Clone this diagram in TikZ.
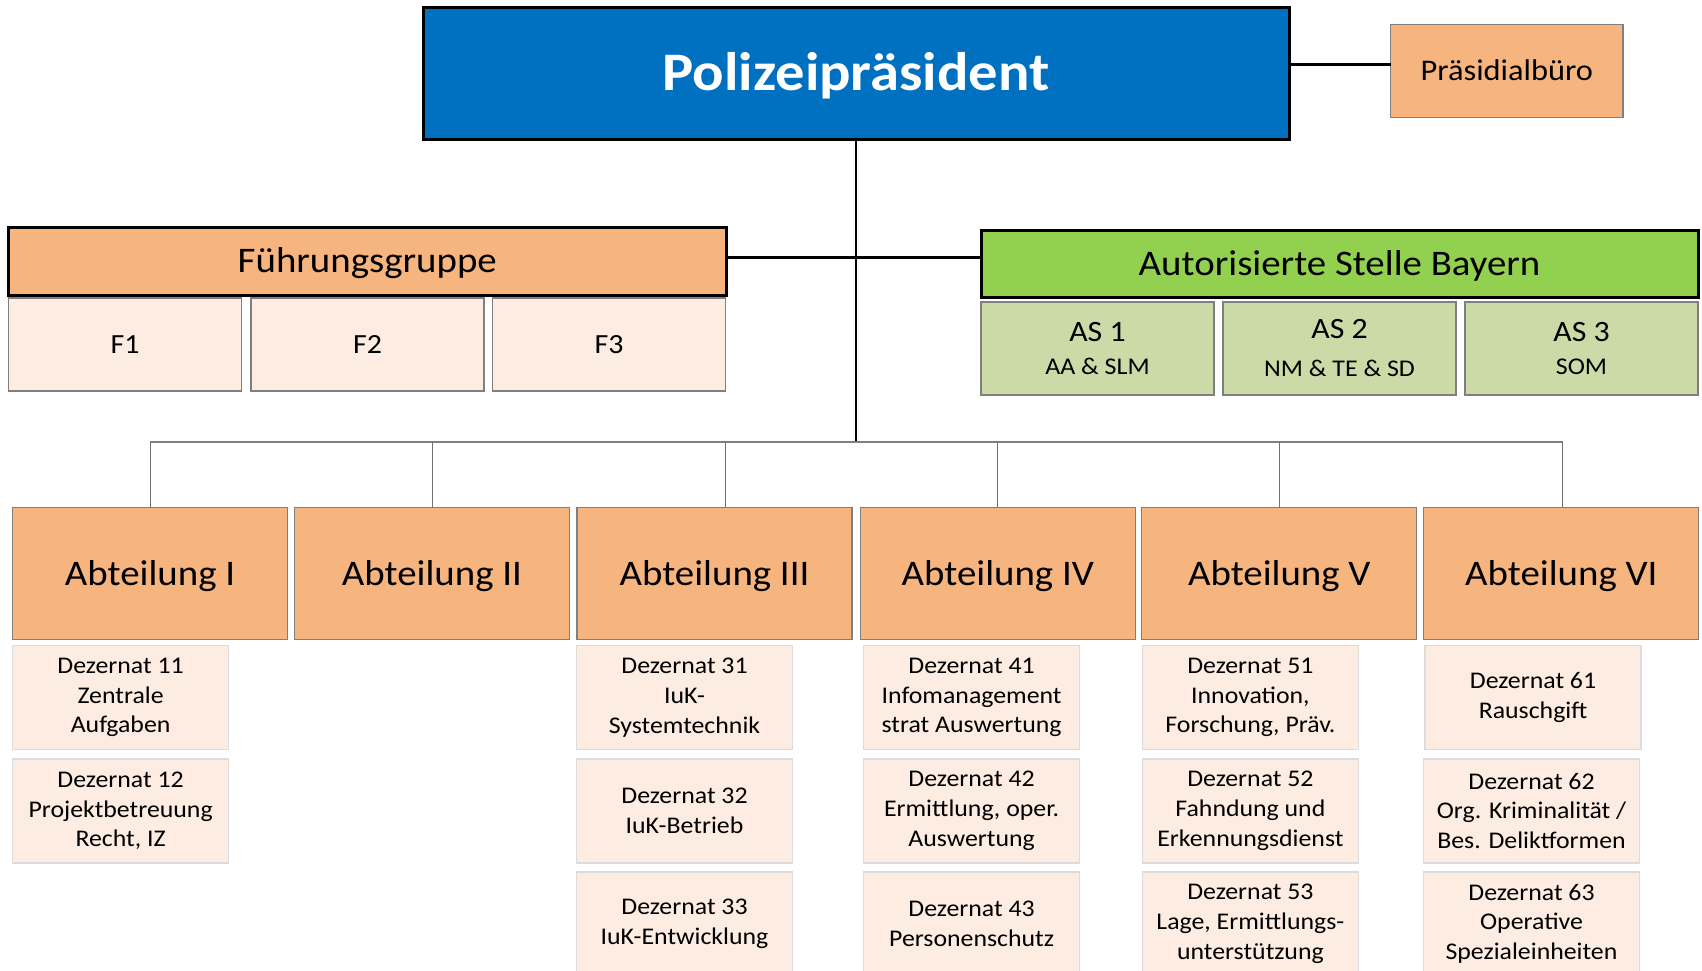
\documentclass[tikz,border=0pt]{standalone}
\usepackage{fontspec}
\setmainfont{Carlito}[FakeStretch=1.08]
\definecolor{ppblue}{HTML}{0070C0}
\definecolor{orangebox}{HTML}{F6B47F}
\definecolor{greenbox}{HTML}{92D050}
\definecolor{lgreen}{HTML}{CCDAA8}
\definecolor{peach}{HTML}{FCECE1}
\definecolor{graybord}{HTML}{7F7F7F}
\definecolor{lightbord}{HTML}{DCDCDC}
\begin{document}
\begin{tikzpicture}[x=1pt,y=-1pt,
  base/.style={inner sep=0pt, outer sep=0pt, anchor=north west, align=center},
  ppbox/.style={base, fill=ppblue, draw=black, line width=3pt, text=white,
     font=\fontsize{54.3}{60}\selectfont\bfseries, text height=34.3pt, text depth=0pt},
  headbox/.style={base, draw=black, line width=3pt,
     font=\fontsize{36}{42}\selectfont, text height=22.8pt, text depth=0pt},
  pbbox/.style={base, fill=orangebox, draw=graybord, line width=1.3pt,
     font=\fontsize{30}{36}\selectfont, text height=19pt, text depth=0pt},
  fbox/.style={base, fill=peach, draw=graybord, line width=1.1pt,
     minimum width=233pt, minimum height=93pt,
     font=\fontsize{27.7}{32}\selectfont, text height=17.5pt, text depth=0pt},
  asbox/.style={base, fill=lgreen, draw=graybord, line width=1.1pt,
     minimum width=233pt, minimum height=93pt,
     font=\fontsize{24}{32.3}\selectfont},
  abtbox/.style={base, fill=orangebox, draw=graybord, line width=1.3pt,
     minimum width=275pt, minimum height=132pt,
     font=\fontsize{36}{42}\selectfont, text height=22.8pt, text depth=0pt},
  dezbox/.style={base, fill=peach, draw=lightbord, line width=1.5pt,
     minimum width=216pt, minimum height=104pt,
     font=\fontsize{23.9}{29.7}\selectfont},
  mainline/.style={draw=black, line width=2.5pt},
  busline/.style={draw=graybord, line width=1.6pt},
  dropline/.style={draw=graybord!90!black, line width=1pt}]
\useasboundingbox (0,0) rectangle (1702,970);
\clip (0,0) rectangle (1702,970);

% top level
\node[ppbox, minimum width=866pt, minimum height=132pt] (PP) at (423,7.3) {Polizeipräsident};
\node[pbbox, minimum width=232.4pt, minimum height=93pt] (PB) at (1390.6,24.3) {Präsidialbüro};

% Fuehrungsgruppe
\node[headbox, fill=orangebox, minimum width=717.4pt, minimum height=68pt] (FG) at (8.6,227) {Führungsgruppe};
\node[fbox] (F1) at (8.6,298) {F1};
\node[fbox] (F2) at (251,298) {F2};
\node[fbox] (F3) at (492.5,298) {F3};

% Autorisierte Stelle
\node[headbox, fill=greenbox, minimum width=717pt, minimum height=67.7pt] (AS) at (981,230) {Autorisierte Stelle Bayern};
\node[asbox] (AS1) at (981,302) {{\fontsize{29.5}{32.3}\selectfont AS 1}\\AA \& SLM};
\node[asbox] (AS2) at (1223,302) {{\fontsize{29.5}{32.3}\selectfont AS 2}\\[5.7pt]NM \& TE \& SD};
\node[asbox] (AS3) at (1465,302) {{\fontsize{29.5}{32.3}\selectfont AS 3}\\SOM};

% Abteilungen
\node[abtbox] (A1) at (12.6,507.7) {Abteilung I};
\node[abtbox] (A2) at (294.5,507.7) {Abteilung II};
\node[abtbox] (A3) at (577,507.7) {Abteilung III};
\node[abtbox] (A4) at (860.3,507.7) {Abteilung IV};
\node[abtbox] (A5) at (1141.8,507.7) {Abteilung V};
\node[abtbox] (A6) at (1423.8,507.7) {Abteilung VI};

% Dezernate
\node[dezbox] (D11) at (12.6,645.5) {Dezernat 11\\Zentrale\\Aufgaben};
\node[dezbox] (D12) at (12.6,758.8) {Dezernat 12\\Projektbetreuung\\Recht, IZ};

\node[dezbox] (D31) at (576.5,645.5) {Dezernat 31\\IuK-\\Systemtechnik};
\node[dezbox] (D32) at (576.5,758.8) {Dezernat 32\\IuK-Betrieb};
\node[dezbox] (D33) at (576.5,871.8) {Dezernat 33\\IuK-Entwicklung};

\node[dezbox] (D41) at (863.6,645.5) {Dezernat 41\\Infomanagement\\strat Auswertung};
\node[dezbox] (D42) at (863.6,758.8) {Dezernat 42\\Ermittlung, oper.\\Auswertung};
\node[dezbox] (D43) at (863.6,871.8) {Dezernat 43\\Personenschutz};

\node[dezbox] (D51) at (1142.4,645.5) {Dezernat 51\\Innovation,\\Forschung, Präv.};
\node[dezbox] (D52) at (1142.4,758.8) {Dezernat 52\\Fahndung und\\Erkennungsdienst};
\node[dezbox] (D53) at (1142.4,871.8) {Dezernat 53\\Lage, Ermittlungs-\\unterstützung};

\node[dezbox] (D61) at (1425,645.5) {Dezernat 61\\Rauschgift};
\node[dezbox] (D62) at (1423.5,758.8) {Dezernat 62\\Org. Kriminalität /\\Bes. Deliktformen};
\node[dezbox] (D63) at (1423.5,871.8) {Dezernat 63\\Operative\\Spezialeinheiten};

% connectors
\coordinate (bus) at (856,441.7);
\coordinate (hline) at (856,257.3);
\coordinate (pline) at (1340,64.3);
\coordinate (a3top) at ([xshift=11.2pt]A3.north);
\coordinate (a6top) at ([xshift=1.3pt]A6.north);

\draw[mainline] (PP.south) -- (bus);
\draw[mainline] (FG.east |- hline) -- (AS.west |- hline);
\draw[mainline] (PP.east |- pline) -- (PB.west |- pline);
\draw[busline] (A1.north |- bus) -- (a6top |- bus);
\foreach \n in {A1,A2,A4,A5} { \draw[dropline] (\n.north) -- (\n.north |- bus); }
\draw[dropline] (a3top) -- (a3top |- bus);
\draw[dropline] (a6top) -- (a6top |- bus);
\end{tikzpicture}
\end{document}
